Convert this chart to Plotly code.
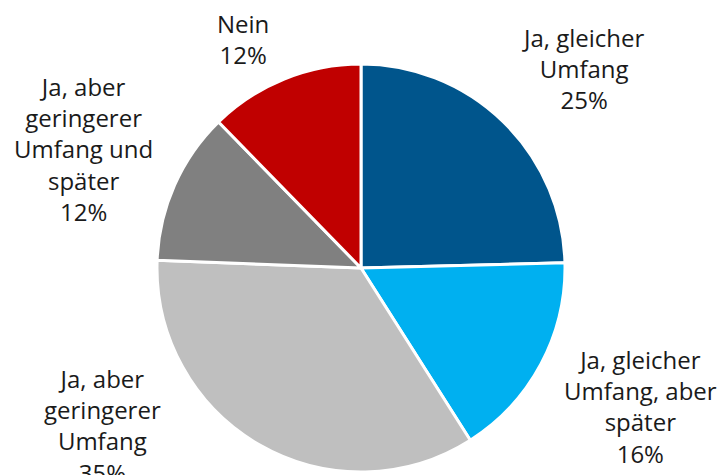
import plotly.graph_objects as go

W, H = 721, 475

# slices clockwise from 12 o'clock
labels = [
    "Ja, gleicher Umfang",
    "Ja, gleicher Umfang, aber später",
    "Ja, aber geringerer Umfang",
    "Ja, aber geringerer Umfang und später",
    "Nein",
]
values = [24.6, 16.4, 34.6, 12.1, 12.3]
label_lines = [
    "Ja, gleicher<br>Umfang",
    "Ja, gleicher<br>Umfang, aber<br>später",
    "Ja, aber<br>geringerer<br>Umfang",
    "Ja, aber<br>geringerer<br>Umfang und<br>später",
    "Nein",
]
colors = ["#00558C", "#00B0F0", "#BFBFBF", "#808080", "#C00000"]

# label block centres in pixels (x, y from top)
label_pos = [(583, 68), (640, 406), (102, 425), (83, 149), (243, 39)]

cx, cy, r = 361, 268, 204

fig = go.Figure(
    go.Pie(
        labels=labels,
        values=values,
        sort=False,
        direction="clockwise",
        rotation=0,
        marker=dict(colors=colors, line=dict(color="white", width=3)),
        textinfo="none",
        hoverinfo="label+percent",
        domain=dict(
            x=[(cx - r) / W, (cx + r) / W],
            y=[1 - (cy + r) / H, 1 - (cy - r) / H],
        ),
    )
)

total = sum(values)
for txt, v, (px, py) in zip(label_lines, values, label_pos):
    fig.add_annotation(
        x=px / W,
        y=1 - py / H,
        xref="paper",
        yref="paper",
        text=f"{txt}<br>{round(100 * v / total)}%",
        showarrow=False,
        xanchor="center",
        yanchor="middle",
        align="center",
        font=dict(family="Open Sans", size=24, color="#1a1a1a"),
    )

fig.update_layout(
    width=W,
    height=H,
    margin=dict(l=0, r=0, t=0, b=0),
    showlegend=False,
    paper_bgcolor="white",
    plot_bgcolor="white",
)

# page body has a default 8px margin; drop it so the figure sits at 0,0
fig.write_html(
    "out.html",
    config={"displayModeBar": False},
    post_script="document.body.style.margin='0';",
)
